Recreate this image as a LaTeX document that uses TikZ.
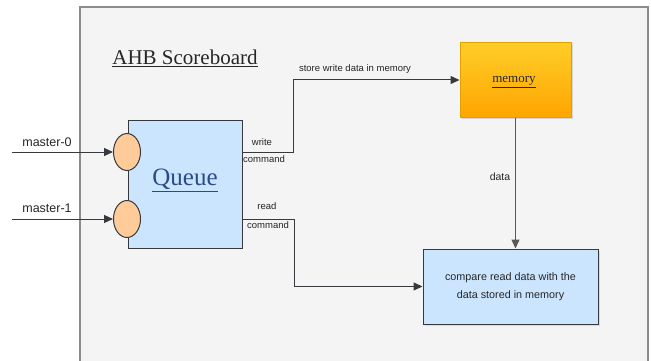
\documentclass[tikz,border=0pt]{standalone}
\usepackage{fontspec}
\setmainfont{Liberation Sans}
\newfontfamily\serifft{Liberation Serif}
\usetikzlibrary{arrows.meta,shapes.geometric,shadows}
\definecolor{bgframe}{HTML}{F4F4F4}
\definecolor{frameln}{HTML}{8C8C8C}
\definecolor{bluefill}{HTML}{CCE5FF}
\definecolor{darkln}{HTML}{36393D}
\definecolor{portfill}{HTML}{FFCC99}
\definecolor{memtop}{HTML}{FFCD28}
\definecolor{membot}{HTML}{FFA500}
\definecolor{memln}{HTML}{E0A000}
\definecolor{queuetxt}{HTML}{2A4A8A}
\tikzset{
  conn/.style={draw=darkln, line width=1pt, -{Triangle[length=9pt,width=8pt]}},
  bluebox/.style={rectangle, draw=darkln, fill=bluefill, line width=1pt, inner sep=0pt},
  port/.style={ellipse, draw=darkln, fill=portfill, line width=1pt, minimum width=27pt, minimum height=37pt, inner sep=0pt},
  smalllbl/.style={font=\fontsize{9.5}{11}\selectfont, text=black!85, inner sep=1pt},
  mlbl/.style={font=\fontsize{12.5}{14}\selectfont, text=black!85, inner sep=1pt}
}
\begin{document}
\begin{tikzpicture}[x=1pt,y=-1pt]
\useasboundingbox (0,0) rectangle (651,361);
\fill[white] (0,0) rectangle (651,361);
% frame
\draw[frameln, fill=bgframe, line width=1.8pt] (80,7) rectangle (648,380);
% title
\node[font=\serifft\fontsize{21}{24}\selectfont, text=black!85] (title) at (185,58) {\underline{AHB Scoreboard}};
% queue
\node[bluebox, minimum width=114pt, minimum height=128pt] (queue) at (185,184) {};
\node[font=\serifft\fontsize{25}{28}\selectfont, text=queuetxt] (qtxt) at (185,180) {\underline{Queue}};
\node[port] (c0) at (127,152) {};
\node[port] (c1) at (127,219) {};
% memory
\node[rectangle, draw=memln, top color=memtop, bottom color=membot, line width=1pt, minimum width=111pt, minimum height=74pt, drop shadow={opacity=0.25, shadow xshift=1.5pt, shadow yshift=-1.5pt}] (memory) at (515.5,80) {};
\node[font=\serifft\fontsize{13}{15}\selectfont, text=black!85] (memtxt) at (514,82) {\underline{memory}};
% compare
\node[bluebox, minimum width=175pt, minimum height=75pt, align=center, font=\fontsize{10.8}{18}\selectfont, text=black!85, drop shadow={opacity=0.2, shadow xshift=1.5pt, shadow yshift=-1.5pt}] (compare) at (510.5,286.5) {compare read data with the\\data stored in memory};
% master inputs
\coordinate (m0) at (12,152);
\coordinate (m1) at (12,219);
\draw[conn] (m0) -- (c0.west);
\draw[conn] (m1) -- (c1.west);
\node[mlbl] (l0) at (47,142) {master-0};
\node[mlbl] (l1) at (47,208) {master-1};
% write path
\draw[conn] (queue.east |- c0) -- ++(51,0) |- (memory.west);
\node[smalllbl] (wr1) at (262,142) {write};
\node[smalllbl] (wr2) at (264,159) {command};
\node[smalllbl] (store) at (355,69) {store write data in memory};
% read path
\draw[conn] (queue.east |- c1) -- ++(52,0) |- (compare.west);
\node[smalllbl] (rd1) at (267,206) {read};
\node[smalllbl] (rd2) at (268,225) {command};
% data
\draw[conn, draw=black!65, line width=1.4pt] (memory.south) -- (memory.south |- compare.north);
\node[smalllbl, font=\fontsize{10.5}{12}\selectfont] (dlbl) at (500,177) {data};
\end{tikzpicture}
\end{document}
